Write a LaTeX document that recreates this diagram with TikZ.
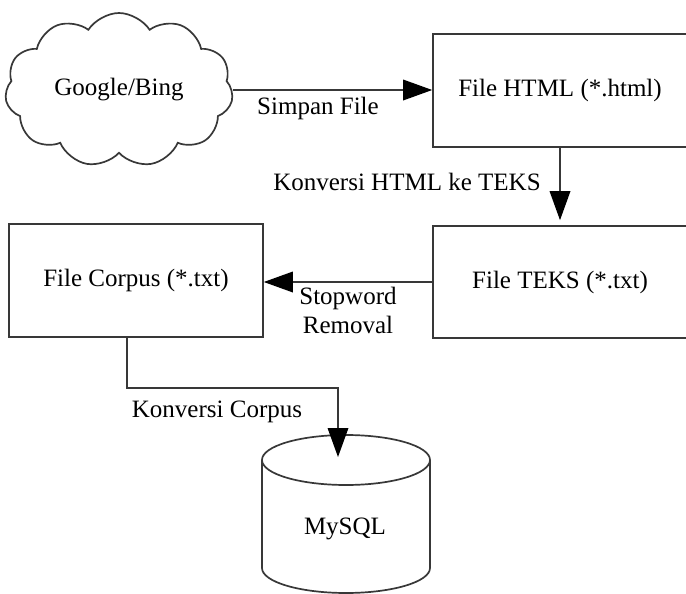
\documentclass[tikz,border=0pt]{standalone}
\usepackage{fontspec}
\setmainfont{Liberation Serif}
\usetikzlibrary{arrows.meta,shapes.symbols}
\begin{document}
\begin{tikzpicture}[x=1pt,y=-1pt,
  lin/.style={draw=black!78,line width=1.7pt},
  box/.style={lin,rectangle,minimum width=254pt,minimum height=113pt,inner sep=0pt},
  txt/.style={font=\fontsize{25}{29}\selectfont,text=black,inner sep=0pt},
  arr/.style={lin,-{Triangle[length=29pt,width=21pt,color=black,fill=black,line width=0pt]}}]
\useasboundingbox (0,0) rectangle (686,594);
% nodes
\node[lin,cloud,cloud puffs=11,cloud puff arc=115,aspect=1.45,minimum width=228pt,minimum height=154pt,inner sep=0pt,txt] (cloud) at (119,90) {Google/Bing};
\node[box,txt] (html) at (560,90.5) {File HTML (*.html)};
\node[box,txt,minimum height=112pt] (teks) at (560,282) {File TEKS (*.txt)};
\node[box,txt] (corpus) at (136,280.5) {File Corpus (*.txt)};
% database cylinder
\draw[lin,fill=white] (262,460) -- (262,568) arc[start angle=180,end angle=0,x radius=84,y radius=25] -- (430,460);
\draw[lin] (346,460) ellipse[x radius=84,y radius=25];
\node[txt] (db) at (345,529) {MySQL};
\coordinate (dbin) at (338,457);
\coordinate (bend) at (338,388);
% connectors
\draw[arr] (cloud.east) -- (cloud.east -| html.west);
\draw[arr,shorten >=5pt] (html.south) -- (teks.north);
\draw[arr] (teks.west) -- (teks.west -| corpus.east);
\draw[arr] ([xshift=-9pt]corpus.south) |- (bend) -- (dbin);
% labels
\node[txt] (l1) at (318,108) {Simpan File};
\node[txt] (l2) at (407,182) {Konversi HTML ke TEKS};
\node[txt,align=center] (l3) at (348,310.5) {Stopword\\[-0.5pt]Removal};
\node[txt] (l4) at (217,412) {Konversi Corpus};
\end{tikzpicture}
\end{document}
